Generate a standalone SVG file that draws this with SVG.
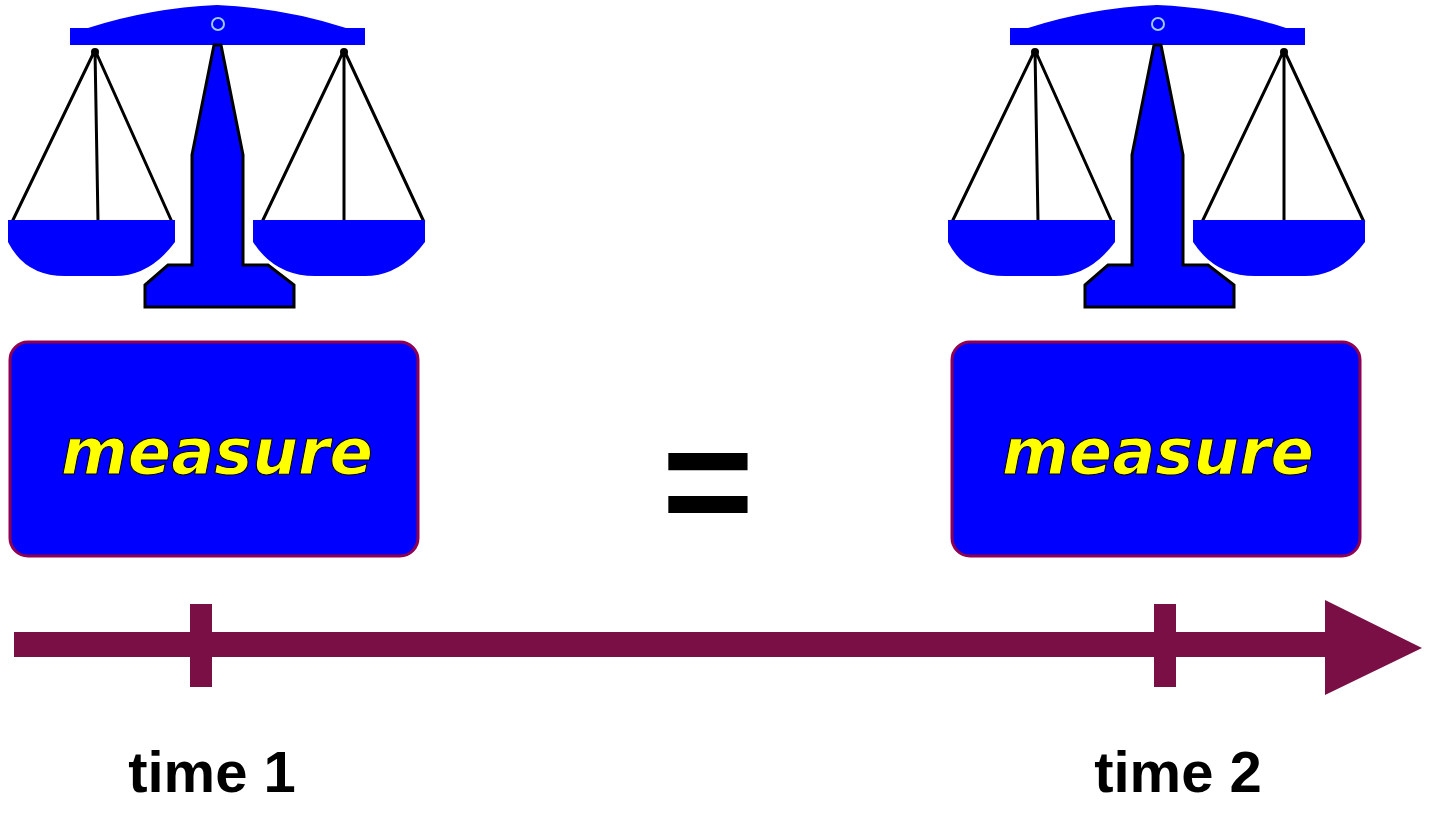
<svg xmlns="http://www.w3.org/2000/svg" xmlns:xlink="http://www.w3.org/1999/xlink" width="1440" height="830" viewBox="0 0 1440 830">
<style>
.blue{fill:#0000ff}
.str{stroke:#000;stroke-width:3;fill:none}
.box{fill:#0000ff;stroke:#900050;stroke-width:3}
.lbl{font-family:"DejaVu Sans",sans-serif;font-weight:bold;font-style:italic;font-size:64px;fill:#ffff00;text-anchor:middle;stroke:#000;stroke-width:1}
.time{font-family:"Liberation Sans",sans-serif;font-weight:bold;font-size:58px;fill:#000;text-anchor:middle}
.eq{font-family:"Liberation Sans",sans-serif;font-weight:bold;font-size:158px;fill:#000;text-anchor:middle}
.tl{fill:#7a0f45}
</style>
<defs>
<g id="scale">
<path class="blue" d="M70,28 H88 Q150,8 217,5 Q285,8 346,28 H365 V45 H70 Z"/>
<circle cx="218" cy="24" r="6" fill="none" stroke="#9cc8ff" stroke-width="2"/>
<path class="str" d="M95,50 L12,222 M95,50 L172,222 M95,50 L98,222 M344,50 L262,222 M344,50 L424,222 M344,50 L344,222"/>
<circle cx="95" cy="52" r="4"/><circle cx="344" cy="52" r="4"/>
<path class="blue" d="M8,220 H175 V242 Q150,276 115,276 H65 Q25,276 8,242 Z"/>
<path class="blue" d="M253,220 H425 V242 Q400,276 365,276 H315 Q275,276 253,242 Z"/>
<path class="blue" stroke="#000" stroke-width="3" d="M214,45 H221 L243,155 V265 H268 L294,285 V307 H145 V285 L168,265 H192 V155 Z"/>
</g>
</defs>
<g id="scale1"><use xlink:href="#scale"/></g>
<g id="scale2"><use xlink:href="#scale" transform="translate(940,0)"/></g>
<g id="measure1"><rect class="box" x="10" y="342" width="408" height="214" rx="18"/><text class="lbl" x="217" y="474">measure</text></g>
<g id="measure2"><rect class="box" x="952" y="342" width="408" height="214" rx="18"/><text class="lbl" x="1158" y="474">measure</text></g>
<g id="equals"><text class="eq" x="708" y="535">=</text></g>
<g id="connectors">
<rect class="tl" x="14" y="632" width="1316" height="25"/>
<polygon class="tl" points="1325,600 1422,648 1325,695"/>
<rect class="tl" x="190" y="604" width="22" height="83"/>
<rect class="tl" x="1154" y="604" width="22" height="83"/>
</g>
<text class="time" x="212" y="792">time 1</text>
<text class="time" x="1178" y="792">time 2</text>
</svg>
